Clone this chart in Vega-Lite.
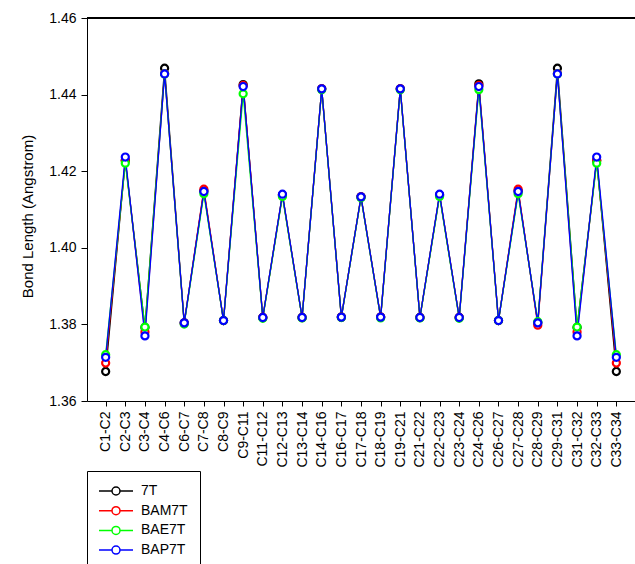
{
  "$schema": "https://vega.github.io/schema/vega-lite/v6.json",
  "autosize": "none",
  "width": 548,
  "height": 383,
  "padding": {"left": 87, "top": 18, "right": 0, "bottom": 163},
  "background": "white",
  "config": {
    "font": "Liberation Sans",
    "view": {"stroke": null},
    "axis": {"grid": false, "domainColor": "black", "tickColor": "black", "labelColor": "black", "titleColor": "black", "labelFont": "Liberation Sans", "titleFont": "Liberation Sans", "labelFontSize": 14, "titleFontSize": 15, "titleFontWeight": "normal", "domainWidth": 1, "tickWidth": 1}
  },
  "data": {"values": [
    {"bond":"C1-C2","series":"7T","value":1.3677},{"bond":"C1-C2","series":"BAM7T","value":1.3699},{"bond":"C1-C2","series":"BAE7T","value":1.3721},{"bond":"C1-C2","series":"BAP7T","value":1.3714},
    {"bond":"C2-C3","series":"7T","value":1.4228},{"bond":"C2-C3","series":"BAM7T","value":1.4228},{"bond":"C2-C3","series":"BAE7T","value":1.4221},{"bond":"C2-C3","series":"BAP7T","value":1.4237},
    {"bond":"C3-C4","series":"7T","value":1.3792},{"bond":"C3-C4","series":"BAM7T","value":1.3780},{"bond":"C3-C4","series":"BAE7T","value":1.3793},{"bond":"C3-C4","series":"BAP7T","value":1.3770},
    {"bond":"C4-C6","series":"7T","value":1.4469},{"bond":"C4-C6","series":"BAM7T","value":1.4455},{"bond":"C4-C6","series":"BAE7T","value":1.4454},{"bond":"C4-C6","series":"BAP7T","value":1.4454},
    {"bond":"C6-C7","series":"7T","value":1.3804},{"bond":"C6-C7","series":"BAM7T","value":1.3803},{"bond":"C6-C7","series":"BAE7T","value":1.3801},{"bond":"C6-C7","series":"BAP7T","value":1.3804},
    {"bond":"C7-C8","series":"7T","value":1.4148},{"bond":"C7-C8","series":"BAM7T","value":1.4153},{"bond":"C7-C8","series":"BAE7T","value":1.4141},{"bond":"C7-C8","series":"BAP7T","value":1.4147},
    {"bond":"C8-C9","series":"7T","value":1.3810},{"bond":"C8-C9","series":"BAM7T","value":1.3810},{"bond":"C8-C9","series":"BAE7T","value":1.3810},{"bond":"C8-C9","series":"BAP7T","value":1.3810},
    {"bond":"C9-C11","series":"7T","value":1.4426},{"bond":"C9-C11","series":"BAM7T","value":1.4424},{"bond":"C9-C11","series":"BAE7T","value":1.4402},{"bond":"C9-C11","series":"BAP7T","value":1.4421},
    {"bond":"C11-C12","series":"7T","value":1.3818},{"bond":"C11-C12","series":"BAM7T","value":1.3818},{"bond":"C11-C12","series":"BAE7T","value":1.3816},{"bond":"C11-C12","series":"BAP7T","value":1.3818},
    {"bond":"C12-C13","series":"7T","value":1.4138},{"bond":"C12-C13","series":"BAM7T","value":1.4138},{"bond":"C12-C13","series":"BAE7T","value":1.4134},{"bond":"C12-C13","series":"BAP7T","value":1.4140},
    {"bond":"C13-C14","series":"7T","value":1.3818},{"bond":"C13-C14","series":"BAM7T","value":1.3818},{"bond":"C13-C14","series":"BAE7T","value":1.3817},{"bond":"C13-C14","series":"BAP7T","value":1.3818},
    {"bond":"C14-C16","series":"7T","value":1.4415},{"bond":"C14-C16","series":"BAM7T","value":1.4415},{"bond":"C14-C16","series":"BAE7T","value":1.4413},{"bond":"C14-C16","series":"BAP7T","value":1.4415},
    {"bond":"C16-C17","series":"7T","value":1.3819},{"bond":"C16-C17","series":"BAM7T","value":1.3819},{"bond":"C16-C17","series":"BAE7T","value":1.3818},{"bond":"C16-C17","series":"BAP7T","value":1.3819},
    {"bond":"C17-C18","series":"7T","value":1.4133},{"bond":"C17-C18","series":"BAM7T","value":1.4133},{"bond":"C17-C18","series":"BAE7T","value":1.4131},{"bond":"C17-C18","series":"BAP7T","value":1.4133},
    {"bond":"C18-C19","series":"7T","value":1.3819},{"bond":"C18-C19","series":"BAM7T","value":1.3819},{"bond":"C18-C19","series":"BAE7T","value":1.3817},{"bond":"C18-C19","series":"BAP7T","value":1.3819},
    {"bond":"C19-C21","series":"7T","value":1.4415},{"bond":"C19-C21","series":"BAM7T","value":1.4415},{"bond":"C19-C21","series":"BAE7T","value":1.4413},{"bond":"C19-C21","series":"BAP7T","value":1.4415},
    {"bond":"C21-C22","series":"7T","value":1.3818},{"bond":"C21-C22","series":"BAM7T","value":1.3818},{"bond":"C21-C22","series":"BAE7T","value":1.3817},{"bond":"C21-C22","series":"BAP7T","value":1.3818},
    {"bond":"C22-C23","series":"7T","value":1.4138},{"bond":"C22-C23","series":"BAM7T","value":1.4138},{"bond":"C22-C23","series":"BAE7T","value":1.4134},{"bond":"C22-C23","series":"BAP7T","value":1.4140},
    {"bond":"C23-C24","series":"7T","value":1.3818},{"bond":"C23-C24","series":"BAM7T","value":1.3818},{"bond":"C23-C24","series":"BAE7T","value":1.3816},{"bond":"C23-C24","series":"BAP7T","value":1.3818},
    {"bond":"C24-C26","series":"7T","value":1.4428},{"bond":"C24-C26","series":"BAM7T","value":1.4424},{"bond":"C24-C26","series":"BAE7T","value":1.4413},{"bond":"C24-C26","series":"BAP7T","value":1.4421},
    {"bond":"C26-C27","series":"7T","value":1.3810},{"bond":"C26-C27","series":"BAM7T","value":1.3810},{"bond":"C26-C27","series":"BAE7T","value":1.3810},{"bond":"C26-C27","series":"BAP7T","value":1.3810},
    {"bond":"C27-C28","series":"7T","value":1.4148},{"bond":"C27-C28","series":"BAM7T","value":1.4153},{"bond":"C27-C28","series":"BAE7T","value":1.4141},{"bond":"C27-C28","series":"BAP7T","value":1.4147},
    {"bond":"C28-C29","series":"7T","value":1.3804},{"bond":"C28-C29","series":"BAM7T","value":1.3798},{"bond":"C28-C29","series":"BAE7T","value":1.3807},{"bond":"C28-C29","series":"BAP7T","value":1.3804},
    {"bond":"C29-C31","series":"7T","value":1.4469},{"bond":"C29-C31","series":"BAM7T","value":1.4455},{"bond":"C29-C31","series":"BAE7T","value":1.4454},{"bond":"C29-C31","series":"BAP7T","value":1.4454},
    {"bond":"C31-C32","series":"7T","value":1.3792},{"bond":"C31-C32","series":"BAM7T","value":1.3780},{"bond":"C31-C32","series":"BAE7T","value":1.3793},{"bond":"C31-C32","series":"BAP7T","value":1.3770},
    {"bond":"C32-C33","series":"7T","value":1.4228},{"bond":"C32-C33","series":"BAM7T","value":1.4228},{"bond":"C32-C33","series":"BAE7T","value":1.4221},{"bond":"C32-C33","series":"BAP7T","value":1.4237},
    {"bond":"C33-C34","series":"7T","value":1.3677},{"bond":"C33-C34","series":"BAM7T","value":1.3699},{"bond":"C33-C34","series":"BAE7T","value":1.3721},{"bond":"C33-C34","series":"BAP7T","value":1.3714}
  ]},
  "encoding": {
    "x": {"field": "bond", "type": "ordinal", "sort": null, "scale": {"type": "point", "padding": 0.95},
      "axis": {"title": null, "labelAngle": -90, "labelPadding": 5, "tickSize": 5, "labelAlign": "right", "labelBaseline": "middle"}},
    "y": {"field": "value", "type": "quantitative", "scale": {"domain": [1.36, 1.46], "nice": false, "zero": false},
      "axis": {"title": "Bond Length (Angstrom)", "values": [1.36, 1.38, 1.40, 1.42, 1.44, 1.46], "format": ".2f", "tickSize": 6, "labelPadding": 5, "titleX": -60, "titleY": 198, "titleBaseline": "middle", "titleAngle": -90}},
    "stroke": {"field": "series", "type": "nominal",
      "scale": {"domain": ["7T", "BAM7T", "BAE7T", "BAP7T"], "range": ["#000000", "#ff0000", "#00ff00", "#0000ff"]},
      "legend": {"title": null, "orient": "none", "legendX": 0, "legendY": 453, "padding": 12, "strokeColor": "black", "fillColor": "white",
        "symbolType": "M-2.43,0H-0.57M0.57,0H2.43M0.57,0A0.57,0.57,0,1,1,-0.57,0A0.57,0.57,0,1,1,0.57,0",
        "symbolSize": 196, "symbolStrokeWidth": 1.5, "symbolFillColor": "white", "symbolOffset": 9, "labelOffset": 17, "rowPadding": 4.7,
        "labelFontSize": 14, "labelFont": "Liberation Sans", "labelColor": "black"}}
  },
  "layer": [
    {"mark": {"type": "line", "strokeWidth": 1.3}},
    {"mark": {"type": "point", "shape": "circle", "size": 50, "strokeWidth": 2.2, "filled": true, "fill": "white", "opacity": 1}},
    {"mark": {"type": "rule", "color": "black", "strokeWidth": 1.5}, "encoding": {"y": {"datum": 1.46}, "x": null, "stroke": null}}
  ]
}
